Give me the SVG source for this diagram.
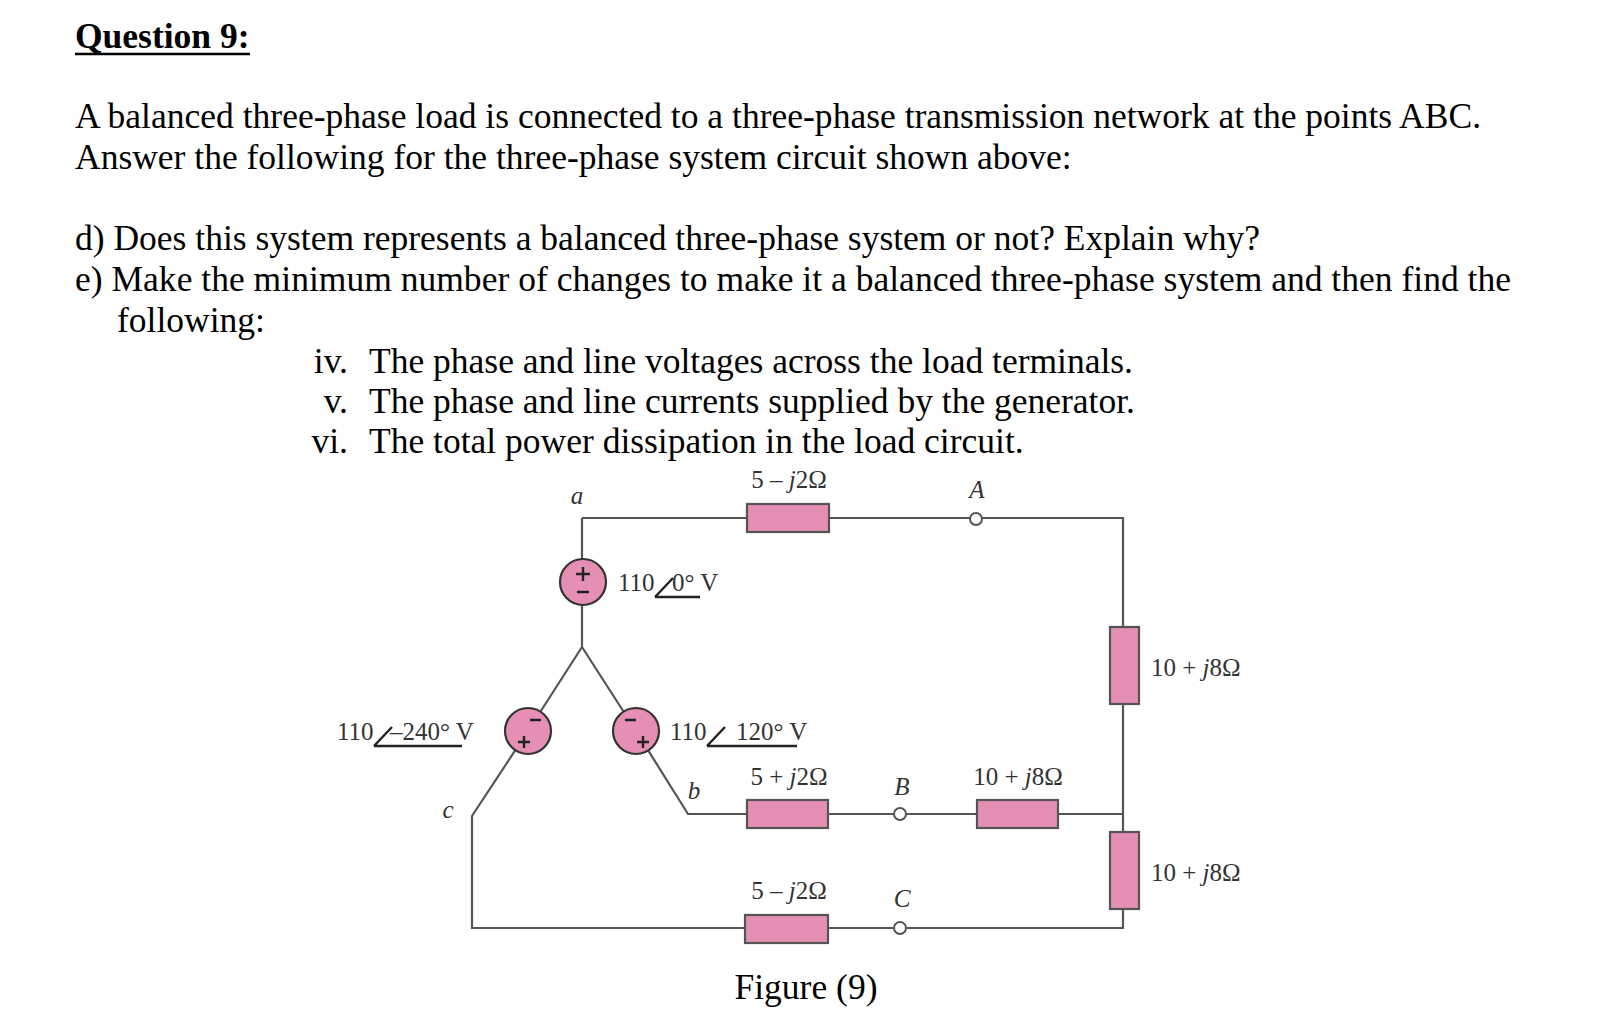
<svg xmlns="http://www.w3.org/2000/svg" width="1620" height="1022" viewBox="0 0 1620 1022">
<style>
.t{font-family:"Liberation Serif","Times New Roman",serif;font-size:35.5px;fill:#000}
.c{font-family:"Liberation Serif","Times New Roman",serif;font-size:25px;fill:#333}
.i{font-style:italic}
.w{stroke:#555;stroke-width:2.2;fill:none}
.r{fill:#e68fb4;stroke:#555;stroke-width:2.2}
.n{fill:#fff;stroke:#555;stroke-width:2}
.s{fill:#e68fb4;stroke:#333;stroke-width:2.2}
.p{stroke:#222;stroke-width:2.4;fill:none}
</style>
<rect width="1620" height="1022" fill="#fff"/>
<g id="text">
<text class="t" x="75" y="48" font-weight="bold">Question 9:</text>
<line x1="75" y1="54" x2="250" y2="54" stroke="#000" stroke-width="2.5"/>
<text class="t" x="75" y="128" textLength="1406">A balanced three-phase load is connected to a three-phase transmission network at the points ABC.</text>
<text class="t" x="75" y="169">Answer the following for the three-phase system circuit shown above:</text>
<text class="t" x="75" y="250">d) Does this system represents a balanced three-phase system or not? Explain why?</text>
<text class="t" x="75" y="291" textLength="1436">e) Make the minimum number of changes to make it a balanced three-phase system and then find the</text>
<text class="t" x="117" y="332">following:</text>
<text class="t" x="348" y="373" text-anchor="end">iv.</text><text class="t" x="369" y="373">The phase and line voltages across the load terminals.</text>
<text class="t" x="348" y="413" text-anchor="end">v.</text><text class="t" x="369" y="413">The phase and line currents supplied by the generator.</text>
<text class="t" x="348" y="453" text-anchor="end">vi.</text><text class="t" x="369" y="453">The total power dissipation in the load circuit.</text>
<text class="t" x="806" y="999" text-anchor="middle">Figure (9)</text>
</g>
<g id="wires">
<path class="w" d="M582,518 H1123 V814 M582,518 V647 L528,731 L472,816 V928 H1123 V814 M582,647 L636,731 L688,814 H1123"/>
</g>
<g id="Ra"><rect class="r" x="747" y="504" width="82" height="28"/><text class="c" x="789" y="488" text-anchor="middle">5 – <tspan class="i">j</tspan>2Ω</text></g>
<g id="Rb"><rect class="r" x="747" y="800" width="81" height="28"/><text class="c" x="789" y="785" text-anchor="middle">5 + <tspan class="i">j</tspan>2Ω</text></g>
<g id="Rc"><rect class="r" x="745" y="915" width="83" height="28"/><text class="c" x="789" y="899" text-anchor="middle">5 – <tspan class="i">j</tspan>2Ω</text></g>
<g id="ZAB"><rect class="r" x="1110" y="627" width="29" height="77"/><text class="c" x="1151" y="676">10 + <tspan class="i">j</tspan>8Ω</text></g>
<g id="ZB"><rect class="r" x="977" y="800" width="81" height="28"/><text class="c" x="1018" y="785" text-anchor="middle">10 + <tspan class="i">j</tspan>8Ω</text></g>
<g id="ZC"><rect class="r" x="1110" y="832" width="29" height="77"/><text class="c" x="1151" y="881">10 + <tspan class="i">j</tspan>8Ω</text></g>
<g id="A"><circle class="n" cx="976" cy="519" r="6"/><text class="c i" x="977" y="498" text-anchor="middle">A</text></g>
<g id="B"><circle class="n" cx="900" cy="814" r="6"/><text class="c i" x="902" y="795" text-anchor="middle">B</text></g>
<g id="C"><circle class="n" cx="900" cy="928" r="6"/><text class="c i" x="902" y="907" text-anchor="middle">C</text></g>
<g id="labels">
<text class="c i" x="577" y="504" text-anchor="middle">a</text>
<text class="c i" x="694" y="799" text-anchor="middle">b</text>
<text class="c i" x="448" y="818" text-anchor="middle">c</text>
</g>
<g id="Va"><circle class="s" cx="583" cy="582" r="23"/><path class="p" d="M576,574 H590 M583,567 V581 M577,592 H589"/>
<text class="c" x="618" y="591">110</text><path class="p" d="M655,597 L673,578 M655,597 H700" stroke-width="2"/><text class="c" x="672" y="591">0° V</text></g>
<g id="Vc"><circle class="s" cx="528" cy="731" r="23"/><path class="p" d="M530,720 H541 M518,742 H530 M524,736 V748"/>
<text class="c" x="337" y="740">110</text><path class="p" d="M374,746 L392,727 M374,746 H462" stroke-width="2"/><text class="c" x="390" y="740">–240° V</text></g>
<g id="Vb"><circle class="s" cx="636" cy="731" r="23"/><path class="p" d="M625,720 H636 M637,742 H649 M643,736 V748"/>
<text class="c" x="670" y="740">110</text><path class="p" d="M707,746 L725,727 M707,746 H797" stroke-width="2"/><text class="c" x="736" y="740">120° V</text></g>
</svg>
